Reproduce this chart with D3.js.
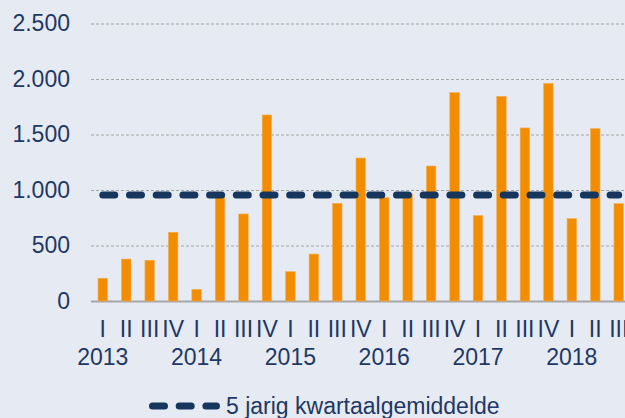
<!DOCTYPE html>
<html>
<head>
<meta charset="utf-8">
<script src="https://cdn.jsdelivr.net/npm/d3@7"></script>
<style>
  html, body { margin: 0; padding: 0; background: #E6EAF2; }
  svg { display: block; font-family: "Liberation Sans", Arial, sans-serif; }
</style>
</head>
<body>
<div id="chart"></div>
<script>
// data
var years = ['2013', '2014', '2015', '2016', '2017', '2018'];
var quarters = ['I', 'II', 'III', 'IV'];
var values = [
    205, 378, 367, 619,     // 2013
    105, 960, 784, 1676,    // 2014
    264, 423, 880, 1288,    // 2015
    931, 965, 1216, 1877,   // 2016
    769, 1844, 1559, 1961,  // 2017
    742, 1553, 877          // 2018
];
var average = 955; // 5 jarig kwartaalgemiddelde
var yTicks = [0, 500, 1000, 1500, 2000, 2500];
var legendLabel = '5 jarig kwartaalgemiddelde';

var W = 625, H = 418;
var navy = '#1F3864';
var lineColor = '#17365D';
var orange = '#F28C00';

// categories: year + quarter, one per bar
var categories = [];
years.forEach(function(y) {
    quarters.forEach(function(q) {
        if (categories.length < values.length) categories.push({ year: y, q: q });
    });
});
var data = categories.map(function(c, i) { return { key: i, year: c.year, q: c.q, value: values[i] }; });

var nl = d3.formatLocale({ decimal: ',', thousands: '.', grouping: [3], currency: ['€', ''] });
var fmt = nl.format(',d');

var svg = d3.select('#chart').append('svg')
    .attr('width', W)
    .attr('height', H);

svg.append('rect').attr('width', W).attr('height', H).attr('fill', '#E6EAF2');

var x = d3.scaleBand()
    .domain(data.map(function(d) { return d.key; }))
    .range([91, 630.5])
    .paddingInner(0.595)
    .paddingOuter(0.3);

var y = d3.scaleLinear().domain([0, 2500]).range([301, 23.5]);

// gridlines + y labels
var yAxis = svg.append('g')
    .attr('transform', 'translate(91,0)')
    .call(d3.axisLeft(y).tickValues(yTicks).tickSize(-(W - 91)).tickPadding(21).tickFormat(fmt));
yAxis.select('.domain').remove();
yAxis.selectAll('.tick line')
    .attr('stroke', '#A6A6A6')
    .attr('stroke-width', 1)
    .attr('stroke-dasharray', '3,2')
    .filter(function(d) { return d === 0; })
    .attr('stroke-dasharray', null)
    .attr('stroke-width', 2);
yAxis.selectAll('.tick text')
    .attr('fill', navy)
    .attr('font-size', 23)
    .attr('font-family', '"Liberation Sans", Arial, sans-serif');

// bars
svg.append('g').selectAll('rect')
    .data(data)
    .enter().append('rect')
    .attr('x', function(d) { return x(d.key); })
    .attr('y', function(d) { return y(d.value); })
    .attr('width', x.bandwidth())
    .attr('height', function(d) { return y(0) - y(d.value); })
    .attr('fill', orange)
    .attr('stroke', '#F6AE55')
    .attr('stroke-width', 0.6);

// average line
var line = d3.line()
    .x(function(d) { return x(d.key) + x.bandwidth() / 2; })
    .y(function() { return y(average); });
svg.append('path')
    .datum(data)
    .attr('d', line)
    .attr('fill', 'none')
    .attr('stroke', lineColor)
    .attr('stroke-width', 7)
    .attr('stroke-linecap', 'round')
    .attr('stroke-dasharray', '12,14.7');

// quarter labels
var xAxis = svg.append('g')
    .attr('transform', 'translate(0,301)')
    .call(d3.axisBottom(x).tickSize(0).tickPadding(0).tickFormat(function(k) { return data[k].q; }));
xAxis.select('.domain').remove();
xAxis.selectAll('.tick text')
    .attr('y', 35.5)
    .attr('dy', null)
    .attr('fill', navy)
    .attr('font-size', 23)
    .attr('font-family', '"Liberation Sans", Arial, sans-serif');

// year labels under the first quarter
svg.append('g').selectAll('text')
    .data(data.filter(function(d) { return d.q === 'I'; }))
    .enter().append('text')
    .attr('x', function(d) { return x(d.key) + x.bandwidth() / 2; })
    .attr('y', 365)
    .attr('text-anchor', 'middle')
    .attr('fill', navy)
    .attr('font-size', 23)
    .text(function(d) { return d.year; });

// legend
var legend = svg.append('g');
legend.append('line')
    .attr('x1', 152.5).attr('x2', 216.5)
    .attr('y1', 406).attr('y2', 406)
    .attr('stroke', lineColor)
    .attr('stroke-width', 7)
    .attr('stroke-linecap', 'round')
    .attr('stroke-dasharray', '12,14.7');
legend.append('text')
    .attr('x', 226)
    .attr('y', 413.5)
    .attr('fill', navy)
    .attr('font-size', 23)
    .text(legendLabel);
</script>
</body>
</html>
